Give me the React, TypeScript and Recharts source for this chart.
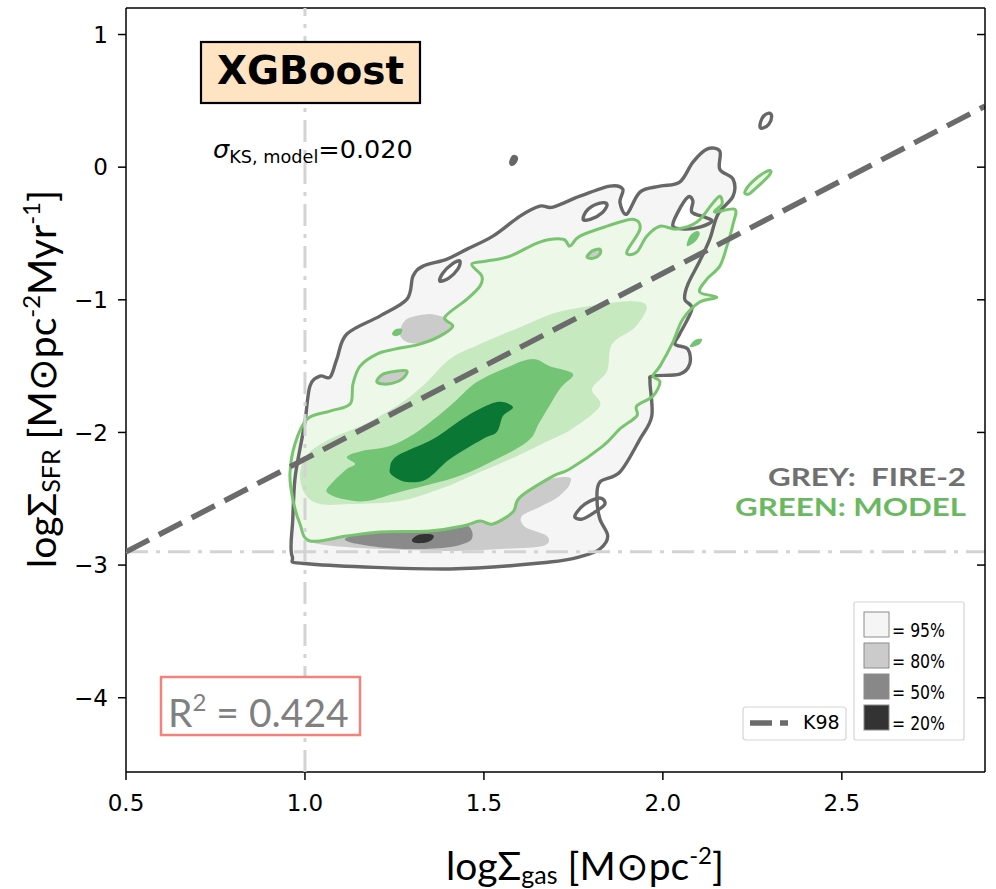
import React from 'react'
import { ScatterChart, Scatter, XAxis, YAxis } from 'recharts'

type Pt = [number, number]

const X_DOMAIN: [number, number] = [0.5, 2.9]
const Y_DOMAIN: [number, number] = [-4.56, 1.2]
const X_TICKS = [0.5, 1.0, 1.5, 2.0, 2.5]
const Y_TICKS = [-4, -3, -2, -1, 0, 1]

// K98 relation and the two reference lines
const K98: Pt[] = [[0.5, -2.9], [2.9, 0.46]]
const REF_H: Pt[] = [[0.5, -2.9], [2.9, -2.9]]
const REF_V: Pt[] = [[1.0, -4.56], [1.0, 1.2]]

// FIRE-2 (grey) density contours
const GREY_95: Pt[] = [
  [0.964, -2.931], [0.966, -2.653], [0.972, -2.351], [0.986, -2.125], [1.0, -1.922], [1.014, -1.65],
  [1.042, -1.575], [1.07, -1.583], [1.089, -1.447], [1.117, -1.258], [1.209, -1.123], [1.285, -0.995],
  [1.302, -0.821], [1.33, -0.746], [1.397, -0.693], [1.453, -0.618], [1.525, -0.52], [1.601, -0.369],
  [1.656, -0.294], [1.693, -0.301], [1.768, -0.219], [1.852, -0.143], [1.888, -0.166], [1.88, -0.264],
  [1.899, -0.354], [1.936, -0.188], [1.992, -0.143], [2.047, -0.113], [2.084, 0.038], [2.123, 0.136],
  [2.159, 0.121], [2.159, -0.015], [2.196, -0.09], [2.196, -0.219], [2.154, -0.354], [2.131, -0.543],
  [2.103, -0.708], [2.07, -0.882], [2.061, -0.995], [2.081, -1.07], [2.047, -1.258], [2.034, -1.334],
  [2.07, -1.372], [2.075, -1.485], [2.047, -1.56], [1.972, -1.575], [1.964, -1.62], [1.969, -1.876],
  [1.936, -2.05], [1.88, -2.298], [1.824, -2.374], [1.816, -2.502], [1.824, -2.653], [1.846, -2.781],
  [1.824, -2.879], [1.777, -2.931], [1.684, -2.977], [1.405, -3.029], [1.014, -2.992],
]
const GREY_HOLE_A: Pt[] = [[1.377, -0.859], [1.385, -0.799], [1.411, -0.731], [1.433, -0.708], [1.427, -0.769], [1.402, -0.836]]
const GREY_HOLE_B: Pt[] = [[1.777, -0.392], [1.791, -0.317], [1.824, -0.271], [1.844, -0.279], [1.832, -0.339], [1.799, -0.392]]
const GREY_HOLE_C: Pt[] = [[2.028, -0.445], [2.042, -0.339], [2.07, -0.226], [2.084, -0.256], [2.081, -0.339], [2.117, -0.377], [2.137, -0.407], [2.103, -0.452], [2.061, -0.467]]
const GREY_HOLE_D: Pt[] = [[1.754, -2.63], [1.782, -2.54], [1.824, -2.494], [1.838, -2.54], [1.81, -2.6], [1.774, -2.653]]
const GREY_DOT: Pt[] = [[1.573, 0.038], [1.581, 0.083], [1.592, 0.075], [1.589, 0.038], [1.578, 0.015]]
const GREY_ISLAND: Pt[] = [[2.271, 0.309], [2.279, 0.377], [2.296, 0.407], [2.304, 0.384], [2.296, 0.324], [2.279, 0.294]]
const GREY_80_A: Pt[] = [[1.265, -1.243], [1.285, -1.145], [1.341, -1.108], [1.377, -1.123], [1.419, -1.168], [1.433, -1.258], [1.377, -1.334], [1.321, -1.334], [1.279, -1.311]]
const GREY_80_B: Pt[] = [
  [1.006, -2.803], [1.098, -2.653], [1.321, -2.54], [1.545, -2.427], [1.721, -2.336], [1.74, -2.389],
  [1.707, -2.487], [1.656, -2.562], [1.606, -2.63], [1.615, -2.713], [1.676, -2.781], [1.665, -2.856],
  [1.545, -2.879], [1.405, -2.894], [1.218, -2.879], [1.078, -2.856], [1.014, -2.826],
]
const GREY_80_C: Pt[] = [[1.201, -1.62], [1.218, -1.56], [1.257, -1.537], [1.285, -1.537], [1.271, -1.598], [1.232, -1.635]]
const GREY_80_D: Pt[] = [[1.788, -0.678], [1.802, -0.633], [1.824, -0.618], [1.824, -0.656], [1.807, -0.686]]
const GREY_50: Pt[] = [[1.112, -2.803], [1.209, -2.728], [1.349, -2.69], [1.447, -2.69], [1.466, -2.803], [1.405, -2.864], [1.293, -2.879], [1.182, -2.856]]
const GREY_20: Pt[] = [[1.299, -2.811], [1.316, -2.773], [1.349, -2.766], [1.36, -2.788], [1.344, -2.826], [1.31, -2.834]]

// model (green) density contours
const GREEN_95: Pt[] = [
  [1.014, -2.818], [0.986, -2.69], [0.966, -2.502], [0.958, -2.313], [0.972, -2.087], [1.006, -1.899],
  [1.07, -1.839], [1.126, -1.786], [1.134, -1.635], [1.154, -1.5], [1.201, -1.409], [1.251, -1.372],
  [1.321, -1.334], [1.377, -1.274], [1.413, -1.198], [1.391, -1.13], [1.453, -0.995], [1.489, -0.897],
  [1.494, -0.821], [1.466, -0.731], [1.508, -0.708], [1.573, -0.671], [1.656, -0.565], [1.721, -0.543],
  [1.74, -0.595], [1.768, -0.52], [1.844, -0.445], [1.916, -0.392], [1.936, -0.467], [1.899, -0.641],
  [1.927, -0.641], [1.955, -0.52], [1.992, -0.445], [2.039, -0.467], [2.095, -0.414], [2.137, -0.279],
  [2.159, -0.219], [2.165, -0.279], [2.145, -0.339], [2.201, -0.317], [2.196, -0.43], [2.179, -0.595],
  [2.159, -0.746], [2.123, -0.844], [2.103, -0.942], [2.151, -0.98], [2.103, -1.017], [2.056, -1.145],
  [2.028, -1.319], [1.992, -1.5], [1.972, -1.575], [1.992, -1.62], [1.972, -1.726], [1.927, -1.801],
  [1.927, -1.876], [1.88, -1.974], [1.832, -2.103], [1.74, -2.276], [1.693, -2.329], [1.601, -2.487],
  [1.581, -2.6], [1.525, -2.69], [1.489, -2.668], [1.441, -2.705], [1.349, -2.743], [1.209, -2.751],
  [1.117, -2.781],
]
const GREEN_80: Pt[] = [
  [1.008, -2.163], [1.07, -2.05], [1.168, -1.937], [1.265, -1.786], [1.335, -1.635], [1.405, -1.447],
  [1.489, -1.334], [1.601, -1.206], [1.698, -1.1], [1.796, -1.047], [1.916, -1.01], [1.955, -1.055],
  [1.922, -1.206], [1.858, -1.334], [1.844, -1.537], [1.802, -1.673], [1.824, -1.801], [1.746, -1.974],
  [1.679, -2.065], [1.587, -2.185], [1.489, -2.298], [1.377, -2.427], [1.265, -2.517], [1.126, -2.54],
  [1.042, -2.54], [1.0, -2.464], [0.986, -2.313],
]
const GREEN_50: Pt[] = [
  [1.061, -2.449], [1.078, -2.374], [1.117, -2.276], [1.14, -2.238], [1.117, -2.185], [1.159, -2.14],
  [1.237, -2.103], [1.313, -1.997], [1.405, -1.801], [1.48, -1.62], [1.573, -1.5], [1.637, -1.447],
  [1.684, -1.5], [1.749, -1.56], [1.712, -1.673], [1.656, -1.922], [1.62, -2.072], [1.497, -2.253],
  [1.405, -2.351], [1.265, -2.449], [1.173, -2.517], [1.106, -2.502],
]
const GREEN_20: Pt[] = [
  [1.237, -2.276], [1.257, -2.178], [1.358, -2.05], [1.453, -1.876], [1.536, -1.771], [1.581, -1.809],
  [1.553, -1.876], [1.536, -1.997], [1.497, -2.05], [1.405, -2.201], [1.341, -2.351], [1.285, -2.374],
  [1.246, -2.329],
]
const GREEN_ISLAND: Pt[] = [[2.229, -0.188], [2.249, -0.113], [2.285, -0.038], [2.302, -0.03], [2.293, -0.075], [2.26, -0.158], [2.24, -0.203]]
const GREEN_BLOB_A: Pt[] = [[2.067, -0.595], [2.075, -0.52], [2.095, -0.482], [2.103, -0.505], [2.089, -0.565]]
const GREEN_BLOB_B: Pt[] = [[2.075, -1.349], [2.089, -1.304], [2.109, -1.296], [2.103, -1.334], [2.084, -1.356]]
const GREEN_BLOB_C: Pt[] = [[1.243, -1.258], [1.254, -1.221], [1.271, -1.221], [1.268, -1.258], [1.254, -1.274]]

const GREY_LINE = '#676767'
const GREEN_LINE = '#78c46f'

// plot box in pixels (same numbers go to the chart margins/axis sizes)
const PLOT = { left: 126, right: 985, top: 8, bottom: 772 }

const rows = (pts: Pt[]) => pts.map(([x, y]) => ({ x, y }))

function closedPath(pts: { x: number; y: number }[]) {
  const n = pts.length
  let d = `M${pts[0].x},${pts[0].y}`
  for (let i = 0; i < n; i++) {
    const p0 = pts[(i - 1 + n) % n], p1 = pts[i], p2 = pts[(i + 1) % n], p3 = pts[(i + 2) % n]
    const c1x = p1.x + (p2.x - p0.x) / 6, c1y = p1.y + (p2.y - p0.y) / 6
    const c2x = p2.x - (p3.x - p1.x) / 6, c2y = p2.y - (p3.y - p1.y) / 6
    d += ` C${c1x},${c1y} ${c2x},${c2y} ${p2.x},${p2.y}`
  }
  return d + 'Z'
}

const polygon = (fill: string, stroke = 'none', width = 0) => (p: any) => (
  <path d={closedPath(p.points)} fill={fill} stroke={stroke} strokeWidth={width} strokeLinejoin="round" />
)
const straight = (stroke: string, width: number, dash: string) => (p: any) => (
  <path d={'M' + p.points.map((q: any) => `${q.x},${q.y}`).join('L')} fill="none" stroke={stroke} strokeWidth={width} strokeDasharray={dash} />
)
const noDot = () => <g />

// drawing order: grey fills, green fills, contour lines, reference lines, K98
const layers: { data: Pt[]; draw: (p: any) => React.ReactElement }[] = [
  { data: GREY_95, draw: polygon('#f5f5f5') },
  { data: GREY_HOLE_A, draw: polygon('#ffffff') },
  { data: GREY_HOLE_B, draw: polygon('#ffffff') },
  { data: GREY_HOLE_C, draw: polygon('#ffffff') },
  { data: GREY_HOLE_D, draw: polygon('#ffffff') },
  { data: GREY_80_A, draw: polygon('#cbcbcb') },
  { data: GREY_80_B, draw: polygon('#cbcbcb') },
  { data: GREY_50, draw: polygon('#8a8a8a') },
  { data: GREY_20, draw: polygon('#333333') },
  { data: GREEN_95, draw: polygon('#edf8e9') },
  { data: GREEN_ISLAND, draw: polygon('#edf8e9') },
  { data: GREEN_80, draw: polygon('#c7e9c0') },
  { data: GREEN_50, draw: polygon('#74c476') },
  { data: GREEN_20, draw: polygon('#0b7734') },
  { data: GREEN_BLOB_A, draw: polygon('#74c476') },
  { data: GREEN_BLOB_B, draw: polygon('#74c476') },
  { data: GREEN_BLOB_C, draw: polygon('#74c476') },
  { data: GREY_95, draw: polygon('none', GREY_LINE, 3.4) },
  { data: GREY_HOLE_A, draw: polygon('none', GREY_LINE, 3.4) },
  { data: GREY_HOLE_B, draw: polygon('none', GREY_LINE, 3.4) },
  { data: GREY_HOLE_C, draw: polygon('none', GREY_LINE, 3.4) },
  { data: GREY_HOLE_D, draw: polygon('none', GREY_LINE, 3.4) },
  { data: GREY_DOT, draw: polygon(GREY_LINE, GREY_LINE, 2) },
  { data: GREY_ISLAND, draw: polygon('none', GREY_LINE, 3.4) },
  { data: GREEN_95, draw: polygon('none', GREEN_LINE, 3) },
  { data: GREEN_ISLAND, draw: polygon('none', GREEN_LINE, 3) },
  { data: GREY_80_C, draw: polygon('#cbcbcb', GREEN_LINE, 3) },
  { data: GREY_80_D, draw: polygon('#cbcbcb', GREEN_LINE, 3) },
  { data: REF_H, draw: straight('#d3d3d3', 3, '22 8 4 8') },
  { data: REF_V, draw: straight('#d3d3d3', 3, '22 8 4 8') },
  { data: K98, draw: straight('#6b6b6b', 5.5, '26 11') },
]

const tickFont = { fontFamily: 'DejaVu Sans', fontSize: 23, fill: '#000' }
const fmtY = (v: number) => (v < 0 ? '\u2212' + Math.abs(v) : String(v))
const labelFont = 'Lato, "Open Sans", sans-serif'

function Overlay() {
  const legendRows = [
    { c: '#f5f5f5', t: '= 95%' },
    { c: '#cbcbcb', t: '= 80%' },
    { c: '#888888', t: '= 50%' },
    { c: '#333333', t: '= 20%' },
  ]
  const pxPerY = (PLOT.bottom - PLOT.top) / (Y_DOMAIN[1] - Y_DOMAIN[0])
  return (
    <svg width={996} height={889} style={{ position: 'absolute', left: 0, top: 0, pointerEvents: 'none' }}>
      {/* right spine with inward ticks */}
      <line x1={PLOT.right} y1={PLOT.top} x2={PLOT.right} y2={PLOT.bottom} stroke="#000" strokeWidth={1.5} />
      {Y_TICKS.map(v => {
        const y = PLOT.top + (Y_DOMAIN[1] - v) * pxPerY
        return <line key={v} x1={PLOT.right - 8} y1={y} x2={PLOT.right} y2={y} stroke="#000" strokeWidth={1.5} />
      })}
      {/* title box */}
      <rect x={201} y={42} width={219} height={61} fill="#ffe4c4" stroke="#000" strokeWidth={2.2} />
      <text x={310.5} y={84} textAnchor="middle" fontFamily="DejaVu Sans" fontWeight="bold" fontSize={39}>XGBoost</text>
      <text x={213} y={158} fontFamily="DejaVu Sans" fontSize={25.5}>
        <tspan fontStyle="italic">σ</tspan>
        <tspan fontSize={17.7} dy={5}>KS, model</tspan>
        <tspan dy={-5}>=0.020</tspan>
      </text>
      {/* R2 box */}
      <rect x={161} y={677} width={199} height={58} fill="#fff" stroke="#f4827c" strokeWidth={2.5} />
      <text x={168} y={727} fontFamily={labelFont} fontSize={39} fill="#808080">
        R<tspan fontSize={24} dy={-16}>2</tspan><tspan dy={16}> = 0.424</tspan>
      </text>
      {/* source labels */}
      <text x={966} y={486} textAnchor="end" fontFamily={labelFont} fontWeight="bold" fontSize={24.5} textLength={198} lengthAdjust="spacingAndGlyphs" fill="#707070" style={{ whiteSpace: 'pre' }}>GREY:  FIRE-2</text>
      <text x={966} y={516} textAnchor="end" fontFamily={labelFont} fontWeight="bold" fontSize={24.5} textLength={231} lengthAdjust="spacingAndGlyphs" fill="#6ab85f">GREEN: MODEL</text>
      {/* K98 legend */}
      <rect x={743} y={707} width={103} height={33} rx={3} fill="#fff" stroke="#d5d5d5" strokeWidth={1.2} />
      <line x1={750} y1={723} x2={788} y2={723} stroke="#6b6b6b" strokeWidth={5.5} strokeDasharray="22 8" />
      <text x={803} y={729} fontFamily="DejaVu Sans" fontSize={19}>K98</text>
      {/* level legend */}
      <rect x={854} y={602} width={110} height={138} rx={2} fill="#fff" stroke="#d5d5d5" strokeWidth={1.2} />
      {legendRows.map((r, i) => (
        <g key={r.t}>
          <rect x={864} y={612 + i * 31} width={25} height={25} fill={r.c} stroke="#8c8c8c" strokeWidth={1} />
          <text x={892} y={637 + i * 31} fontFamily="DejaVu Sans" fontSize={19} textLength={53} lengthAdjust="spacingAndGlyphs">{r.t}</text>
        </g>
      ))}
      {/* axis labels */}
      <text x={585} y={880} textAnchor="middle" fontFamily={labelFont} fontSize={39}>
        logΣ<tspan fontSize={25} dy={4}>gas</tspan><tspan dy={-4}> [M⊙pc</tspan><tspan fontSize={24} dy={-16}>-2</tspan><tspan dy={16}>]</tspan>
      </text>
      <text transform="translate(56,379) rotate(-90)" textAnchor="middle" fontFamily={labelFont} fontSize={39}>
        logΣ<tspan fontSize={25} dy={4}>SFR</tspan><tspan dy={-4}> [M⊙pc</tspan><tspan fontSize={24} dy={-16}>-2</tspan><tspan dy={16}>Myr</tspan><tspan fontSize={24} dy={-16}>-1</tspan><tspan dy={16}>]</tspan>
      </text>
    </svg>
  )
}

export default function App() {
  return (
    <div style={{ position: 'absolute', left: 0, top: 0, width: 996, height: 889, background: '#fff' }}>
      <ScatterChart width={996} height={889} margin={{ top: 0, right: 996 - PLOT.right, bottom: 0, left: 0 }}>
        <XAxis xAxisId="top" orientation="top" type="number" domain={X_DOMAIN} allowDataOverflow height={PLOT.top}
          tick={false} tickLine={false} axisLine={{ stroke: '#000', strokeWidth: 1.5 }} />
        <XAxis dataKey="x" type="number" domain={X_DOMAIN} ticks={X_TICKS} allowDataOverflow height={889 - PLOT.bottom}
          tickFormatter={(v: number) => v.toFixed(1)} tick={tickFont} tickSize={8} tickMargin={15}
          axisLine={{ stroke: '#000', strokeWidth: 1.5 }} tickLine={{ stroke: '#000', strokeWidth: 1.5 }} />
        <YAxis dataKey="y" type="number" domain={Y_DOMAIN} ticks={Y_TICKS} allowDataOverflow width={PLOT.left}
          tickFormatter={fmtY} tick={tickFont} tickSize={8} tickMargin={10}
          axisLine={{ stroke: '#000', strokeWidth: 1.5 }} tickLine={{ stroke: '#000', strokeWidth: 1.5 }} />
        {layers.map((l, i) => (
          <Scatter key={i} data={rows(l.data)} shape={noDot} line={l.draw} lineType="joint" isAnimationActive={false} />
        ))}
      </ScatterChart>
      <Overlay />
    </div>
  )
}
